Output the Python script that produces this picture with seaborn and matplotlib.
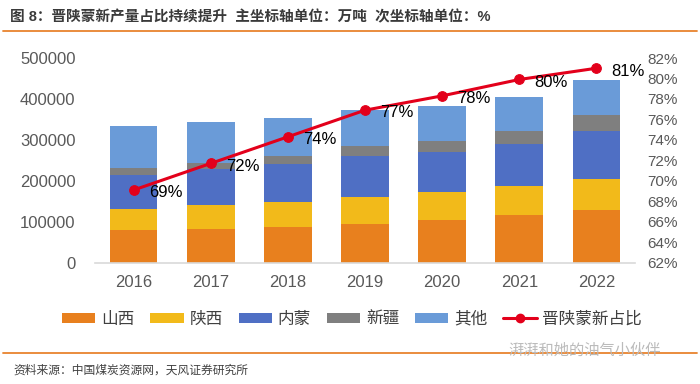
import numpy as np
import pandas as pd
import matplotlib
matplotlib.use('Agg')
import matplotlib.pyplot as plt
from matplotlib.patches import Patch
from matplotlib.lines import Line2D
import seaborn as sns

# 数据（万吨）
years = ['2016', '2017', '2018', '2019', '2020', '2021', '2022']
shanxi = [80000, 83200, 87300, 95400, 104500, 117400, 128900]
shaanxi = [51400, 57900, 61900, 64600, 68500, 71000, 75100]
neimeng = [83100, 87400, 93000, 101700, 97800, 102000, 116500]
xinjiang = [16400, 16100, 19500, 23800, 26900, 32500, 40100]
others = [103500, 97900, 90600, 86300, 83900, 81700, 86300]
share = [69.1, 71.7, 74.3, 76.9, 78.3, 79.9, 81.0]
share_labels = ['69%', '72%', '74%', '77%', '78%', '80%', '81%']

series_names = ['山西', '陕西', '内蒙', '新疆', '其他']
colors = ['#E8801E', '#F2BA1A', '#4F6FC4', '#7F7F7F', '#6A9BD8']
line_color = '#E3001B'

sns.set_theme(style='white')
plt.rcParams['font.family'] = ['Liberation Sans', 'Noto Sans CJK SC']

df = pd.DataFrame({'year': years, '山西': shanxi, '陕西': shaanxi, '内蒙': neimeng,
                   '新疆': xinjiang, '其他': others})
cum = df[series_names].cumsum(axis=1)

fig = plt.figure(figsize=(7, 3.84), dpi=100)
ax = fig.add_axes([95 / 700, 1 - 262.7 / 384, 540 / 700, (262.7 - 58) / 384])

# 堆叠柱：从最上层的累计值开始往下画
for name, c in zip(series_names[::-1], colors[::-1]):
    sns.barplot(x=df['year'], y=cum[name], color=c, width=0.62, ax=ax,
                saturation=1, edgecolor='none')

ax.set_ylim(0, 500000)
ax.set_xlim(-0.5, 6.5)
ax.set_yticks(range(0, 500001, 100000))
ax.set_xlabel('')
ax.set_ylabel('')
for s in ['top', 'right', 'left']:
    ax.spines[s].set_visible(False)
ax.spines['bottom'].set_color('#D9D9D9')
ax.spines['bottom'].set_linewidth(1.2)
ax.tick_params(axis='both', length=0, labelsize=12, colors='#595959')
ax.tick_params(axis='y', pad=14)
ax.tick_params(axis='x', pad=9)

# 占比折线
ax2 = ax.twinx()
sns.lineplot(x=np.arange(len(years)), y=share, ax=ax2, color=line_color,
             linewidth=2.2, marker='o', markersize=7, markeredgecolor=line_color)
ax2.set_ylim(62, 82)
ax2.set_yticks(range(62, 83, 2))
ax2.set_yticklabels([f'{v}%' for v in range(62, 83, 2)])
ax2.tick_params(axis='y', length=0, labelsize=11, colors='#595959', pad=9)
for s in ax2.spines.values():
    s.set_visible(False)
ax2.set_ylabel('')

for i, (v, lab) in enumerate(zip(share, share_labels)):
    ax2.annotate(lab, (i, v), xytext=(11, -2), textcoords='offset points',
                 ha='left', va='center', fontsize=12, color='black')

# 图例
handles = [Patch(facecolor=c, edgecolor='none') for c in colors]
handles.append(Line2D([0], [0], color=line_color, linewidth=2.2, marker='o',
                      markersize=6))
labels = series_names + ['晋陕蒙新占比']
fig.legend(handles, labels, loc='center', bbox_to_anchor=(0.503, 1 - 319 / 384),
           ncol=6, frameon=False, fontsize=12, handlelength=2.0, handleheight=0.55,
           handletextpad=0.35, columnspacing=0.95, labelcolor='#404040')

# 标题与来源
fig.text(10 / 700, 1 - 17 / 384,
         '图 8：晋陕蒙新产量占比持续提升  主坐标轴单位：万吨  次坐标轴单位：%',
         ha='left', va='center', fontsize=10.5, fontweight='bold', color='#3A3A3A')
fig.add_artist(Line2D([3 / 700, 697 / 700], [1 - 30.5 / 384] * 2,
                      color='#E8842E', linewidth=1.3))
fig.add_artist(Line2D([3 / 700, 697 / 700], [1 - 353 / 384] * 2,
                      color='#E8842E', linewidth=1.3))
fig.text(13 / 700, 1 - 371 / 384, '资料来源：中国煤炭资源网，天风证券研究所',
         ha='left', va='center', fontsize=8.5, color='#404040')
fig.text(508 / 700, 1 - 351 / 384, '湃湃和她的油气小伙伴',
         ha='left', va='center', fontsize=11, color='#BBBBBB')

fig.savefig('out.png', dpi=100)
